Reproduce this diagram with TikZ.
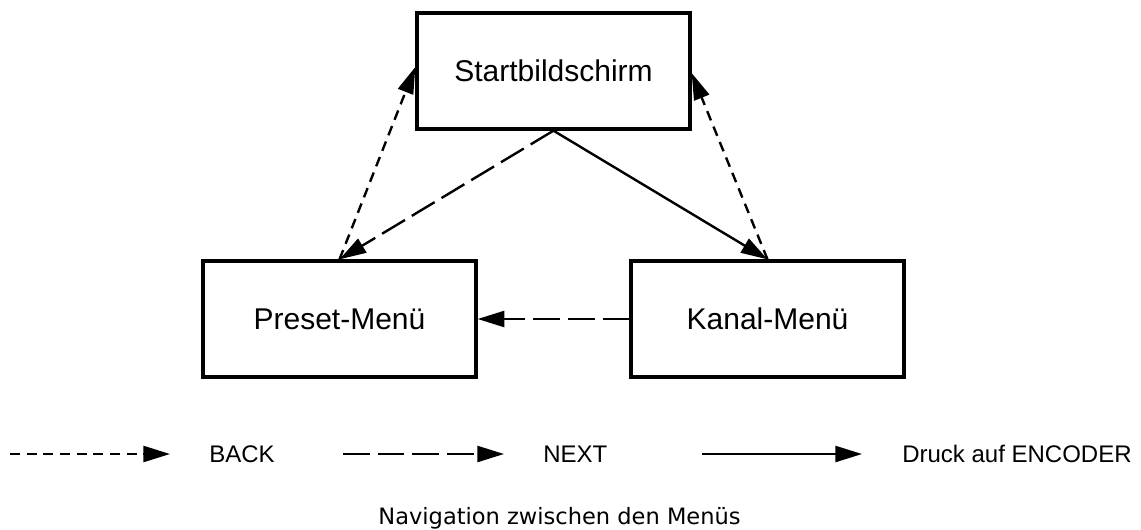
\documentclass[tikz,border=0pt]{standalone}
\usepackage{fontspec}
\setmainfont{Liberation Sans}
\newfontfamily\captionfont{DejaVu Sans}
\usetikzlibrary{arrows.meta}
\begin{document}
\begin{tikzpicture}[x=0.75pt,y=-0.75pt,
  menu/.style={draw, line width=2.5pt, minimum width=204.75pt, minimum height=87pt,
               inner sep=0pt, font=\fontsize{22.5pt}{27pt}\selectfont},
  conn/.style={line width=1.8pt, -{Triangle[length=20pt,width=12pt]}},
  back/.style={conn, dash pattern=on 7.5pt off 5pt},
  nextnav/.style={conn, dash pattern=on 20pt off 6pt},
  press/.style={conn},
  legtext/.style={anchor=west, inner sep=0pt, font=\fontsize{18pt}{22pt}\selectfont}]
\useasboundingbox (0,0) rectangle (1141,529);

% menu screens
\node[menu] (start)  at (553.5,71)  {Startbildschirm};
\node[menu] (preset) at (339.5,319) {Preset-Menü};
\node[menu] (kanal)  at (767.5,319) {Kanal-Menü};

% transitions between the menus
\draw[back]    (preset.north) -- ([yshift=3pt]start.west);
\draw[back]    (kanal.north)  -- ([yshift=-1.5pt]start.east);
\draw[nextnav] (start.south)  -- (preset.north);
\draw[press]   (start.south)  -- (kanal.north);
\draw[nextnav] (kanal.west)   -- (preset.east);

% legend
\coordinate (lb1) at (10,454);  \coordinate (lb2) at (170,454);
\coordinate (ln1) at (343,454); \coordinate (ln2) at (504,454);
\coordinate (ls1) at (702,454); \coordinate (ls2) at (862,454);
\draw[back]    (lb1) -- (lb2);
\draw[nextnav] (ln1) -- (ln2);
\draw[press]   (ls1) -- (ls2);
\node[legtext] (lback)  at (209,454) {BACK};
\node[legtext] (lnext)  at (543,454) {NEXT};
\node[legtext] (lpress) at (902,454) {Druck auf ENCODER};

% caption
\node[anchor=base, inner sep=0pt, font=\captionfont\fontsize{16.9pt}{20pt}\selectfont]
  (caption) at (559.5,524) {Navigation zwischen den Menüs};
\end{tikzpicture}
\end{document}
